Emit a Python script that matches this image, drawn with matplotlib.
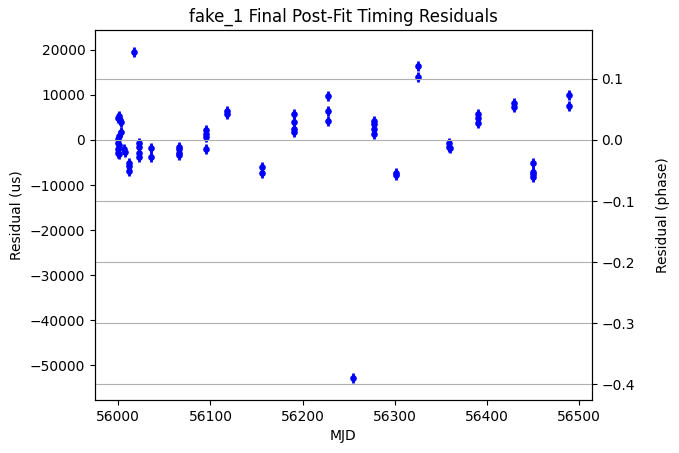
"""
fake_1 final post-fit timing residuals, with residual phase on the right axis
"""

import numpy as np
import matplotlib
matplotlib.use('Agg')
import matplotlib.pyplot as plt

# ─── DATA ──────────────────────────────────────────────────────────────────────
mjd = [56000, 56001, 56002, 56003, 56001, 56003, 56000, 56000, 56001,
       56000, 56000, 56001, 56006, 56007,
       56012, 56012, 56012, 56017,
       56022, 56022, 56022, 56022, 56036, 56036,
       56066, 56066, 56066, 56066, 56095, 56095, 56095, 56095,
       56118, 56118, 56156, 56156,
       56191, 56191, 56191, 56191, 56227, 56227, 56227,
       56255, 56277, 56277, 56277, 56277, 56301, 56301, 56325, 56325,
       56359, 56359, 56360, 56390, 56390, 56390, 56429, 56429,
       56450, 56450, 56450, 56450, 56489, 56489]
residual_us = [4900, 5300, 4500, 4000, 800, 1800, 300, -600, -1200,
               -2000, -2800, -3200, -2000, -2600,
               -5170, -5770, -6950, 19450,
               -740, -1620, -2950, -3700, -1850, -3850,
               -1480, -2070, -2810, -3330, 2220, 1330, 740, -2070,
               6430, 5770, -6060, -7250,
               5840, 3930, 2370, 1840, 9690, 6370, 4150,
               -52800, 4210, 3480, 2500, 1400, -7400, -7830, 16350, 14050,
               -740, -1480, -1850, 5700, 4810, 3840, 8280, 7390,
               -5170, -7030, -7540, -8140, 9920, 7480]
error_us = 1100
period_us = 135600
res_lim = (-57690, 24400)
mjd_lim = (55974.8, 56513.2)

# ─── PLOT ──────────────────────────────────────────────────────────────────────
fig = plt.figure(figsize=(6.79, 4.53), dpi=100)
ax = fig.add_axes([95 / 679, 1 - 400 / 453, 496.5 / 679, 370 / 453])

ax.errorbar(mjd, residual_us, yerr=error_us, fmt='b.', ms=7.5, elinewidth=2)
ax.set_xlim(mjd_lim)
ax.set_ylim(res_lim)
ax.set_xlabel("MJD")
ax.set_ylabel("Residual (us)", labelpad=4.5)
ax.set_title("fake_1 Final Post-Fit Timing Residuals")

# phase axis carries the grid lines
ax2 = ax.twinx()
ax2.set_ylim(np.array(res_lim) / period_us)
ax2.set_ylabel("Residual (phase)", labelpad=15.5)
ax2.grid(True)

fig.savefig("out.png", dpi=100)
plt.close()
